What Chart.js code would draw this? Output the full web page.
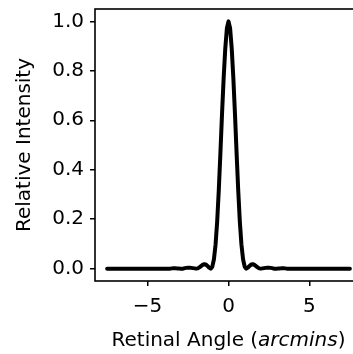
<!DOCTYPE html>
<html>
<head>
<meta charset="utf-8">
<script src="https://cdn.jsdelivr.net/npm/chart.js@4"></script>
<style>
body { margin: 0; overflow: hidden; background: #fff; }
</style>
</head>
<body>
<canvas id="psfChart" width="365" height="354"></canvas>
<script>
// Point spread
const angles = [
    -7.5, -7, -6.5, -6, -5.5, -5, -4.5, -4,
    -3.8, -3.7, -3.6, -3.5, -3.4, -3.3, -3.2, -3.1, -3.0,
    -2.9, -2.8, -2.7, -2.6, -2.5, -2.4, -2.3, -2.2, -2.1, -2.0,
    -1.9, -1.8, -1.7, -1.6, -1.5, -1.4, -1.3, -1.2, -1.1, -1.0,
    -0.9, -0.8, -0.7, -0.6, -0.5, -0.4, -0.3, -0.2, -0.1, 0,
    0.1, 0.2, 0.3, 0.4, 0.5, 0.6, 0.7, 0.8, 0.9, 1.0,
    1.1, 1.2, 1.3, 1.4, 1.5, 1.6, 1.7, 1.8, 1.9, 2.0,
    2.1, 2.2, 2.3, 2.4, 2.5, 2.6, 2.7, 2.8, 2.9, 3.0,
    3.1, 3.2, 3.3, 3.4, 3.5, 3.6, 3.7, 3.8,
    4, 4.5, 5, 5.5, 6, 6.5, 7, 7.5
];
const intensity = [
    0, 0, 0, 0, 0, 0, 0, 0,
    0.000, 0.000, 0.000, 0.001, 0.002, 0.002, 0.001, 0.001, 0.000,
    0.000, 0.000, 0.002, 0.003, 0.004, 0.004, 0.003, 0.002, 0.001, 0.000,
    0.001, 0.005, 0.010, 0.015, 0.018, 0.017, 0.011, 0.004, 0.000, 0.008,
    0.038, 0.097, 0.190, 0.318, 0.468, 0.626, 0.770, 0.890, 0.972, 1.000,
    0.972, 0.890, 0.770, 0.626, 0.468, 0.318, 0.190, 0.097, 0.038, 0.008,
    0.000, 0.004, 0.011, 0.017, 0.018, 0.015, 0.010, 0.005, 0.001, 0.000,
    0.001, 0.002, 0.003, 0.004, 0.004, 0.003, 0.002, 0.000, 0.000, 0.000,
    0.001, 0.001, 0.002, 0.002, 0.001, 0.000, 0.000, 0.000,
    0, 0, 0, 0, 0, 0, 0, 0
];
const xTicks = [-5, 0, 5];
const yTicks = [0, 0.2, 0.4, 0.6, 0.8, 1.0];
const xTitleParts = ['Retinal Angle (', 'arcmins', ')'];
const yTitle = 'Relative Intensity';

const FONT = '"DejaVu Sans", sans-serif';
const SIZE = 20;

// box round the plot plus both axis titles
const frameAndTitles = {
    id: 'frameAndTitles',
    afterDraw(chart) {
        const { ctx, chartArea } = chart;
        ctx.save();
        ctx.strokeStyle = '#000';
        ctx.lineWidth = 1.6;
        ctx.strokeRect(chartArea.left, chartArea.top,
            chartArea.right - chartArea.left, chartArea.bottom - chartArea.top);

        ctx.fillStyle = '#000';
        ctx.textBaseline = 'middle';

        // x title, middle part italic
        const fonts = [SIZE + 'px ' + FONT, 'italic ' + SIZE + 'px ' + FONT, SIZE + 'px ' + FONT];
        const widths = xTitleParts.map((t, i) => { ctx.font = fonts[i]; return ctx.measureText(t).width; });
        const total = widths.reduce((a, b) => a + b, 0);
        let x = (chartArea.left + chartArea.right) / 2 - total / 2;
        ctx.textAlign = 'left';
        xTitleParts.forEach((t, i) => {
            ctx.font = fonts[i];
            ctx.fillText(t, x, 341);
            x += widths[i];
        });

        // y title
        ctx.translate(25, (chartArea.top + chartArea.bottom) / 2);
        ctx.rotate(-Math.PI / 2);
        ctx.textAlign = 'center';
        ctx.font = SIZE + 'px ' + FONT;
        ctx.fillText(yTitle, 0, 0);
        ctx.restore();
    }
};

new Chart(document.getElementById('psfChart'), {
    type: 'line',
    data: {
        datasets: [{
            data: angles.map((a, i) => ({ x: a, y: intensity[i] })),
            borderColor: '#000',
            borderWidth: 4,
            borderJoinStyle: 'round',
            borderCapStyle: 'round',
            pointRadius: 0,
            tension: 0,
            fill: false
        }]
    },
    options: {
        responsive: false,
        animation: false,
        layout: { padding: { top: 9, right: 3, left: 0, bottom: 0 } },
        plugins: {
            legend: { display: false },
            tooltip: { enabled: false }
        },
        scales: {
            x: {
                type: 'linear',
                min: -8.25,
                max: 8.25,
                afterFit: s => { s.height = 73; s.paddingLeft = 0; s.paddingRight = 0; },
                afterBuildTicks: s => { s.ticks = xTicks.map(v => ({ value: v })); },
                border: { display: false },
                grid: { drawOnChartArea: false, drawTicks: true, tickLength: 5, tickColor: '#000', lineWidth: 1.5 },
                ticks: {
                    color: '#000',
                    padding: 9,
                    font: { family: FONT, size: SIZE },
                    maxRotation: 0,
                    callback: v => String(v).replace('-', '\u2212')
                }
            },
            y: {
                min: -0.05,
                max: 1.05,
                afterFit: s => { s.width = 95; s.paddingTop = 0; s.paddingBottom = 0; },
                afterBuildTicks: s => { s.ticks = yTicks.map(v => ({ value: v })); },
                border: { display: false },
                grid: { drawOnChartArea: false, drawTicks: true, tickLength: 5, tickColor: '#000', lineWidth: 1.5 },
                ticks: {
                    color: '#000',
                    padding: 6,
                    font: { family: FONT, size: SIZE },
                    callback: v => v.toFixed(1)
                }
            }
        }
    },
    plugins: [frameAndTitles]
});
</script>
</body>
</html>
